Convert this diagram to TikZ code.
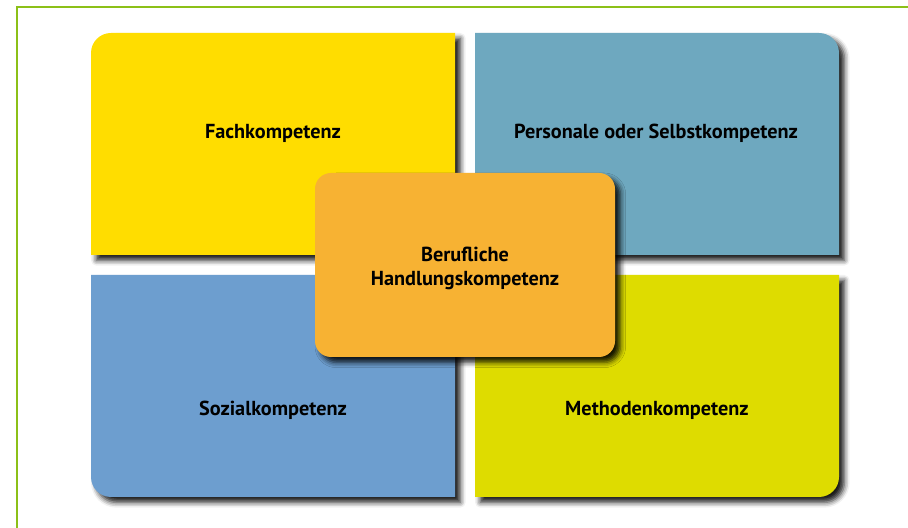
\documentclass[tikz,border=0pt]{standalone}
\usepackage{fontspec}
\setmainfont{PT Sans}
\usepackage{tikz}
\usetikzlibrary{shadows.blur}

\definecolor{rahmen}{RGB}{140,192,24}
\definecolor{fach}{RGB}{255,221,0}
\definecolor{selbst}{RGB}{110,168,191}
\definecolor{sozial}{RGB}{109,158,207}
\definecolor{methode}{RGB}{222,220,0}
\definecolor{handlung}{RGB}{247,178,51}

\tikzset{
  feld/.style={blur shadow={shadow xshift=4pt, shadow yshift=-4pt,
      shadow blur radius=4pt, shadow opacity=90}},
  titel/.style={font=\bfseries\fontsize{15.2}{18}\selectfont, align=center}
}

\begin{document}
\begin{tikzpicture}[x=0.75pt, y=0.75pt]

  \useasboundingbox (0,0) rectangle (908,528);

  \newcommand\R{15pt};

  % Rahmen
  \draw[rahmen, line width=1.9pt] (17,0) -- (17,521) -- (908,521);

  % vier Felder
  \fill[fach, feld] (91,273) -- (91,475) arc[start angle=180, end angle=90, radius=\R]
    -- (455,495) -- (455,273) -- cycle;
  \fill[selbst, feld] (475,273) -- (475,495) -- (819,495)
    arc[start angle=90, end angle=0, radius=\R] -- (839,273) -- cycle;
  \fill[sozial, feld] (91,253) -- (91,51) arc[start angle=180, end angle=270, radius=\R]
    -- (455,31) -- (455,253) -- cycle;
  \fill[methode, feld] (475,253) -- (475,31) -- (819,31)
    arc[start angle=270, end angle=360, radius=\R] -- (839,253) -- cycle;

  % Mitte
  \fill[handlung, feld, rounded corners=12pt] (315,171) rectangle (615,355);

  \node[titel] (fach) at (273,395) {Fachkompetenz};
  \node[titel] (selbst) at (656,395) {Personale oder Selbstkompetenz};
  \node[titel] (sozial) at (273,118) {Sozialkompetenz};
  \node[titel] (methode) at (657,118) {Methodenkompetenz};
  \node[titel] (handlung) at (465,260) {Berufliche\\Handlungskompetenz};

\end{tikzpicture}
\end{document}
